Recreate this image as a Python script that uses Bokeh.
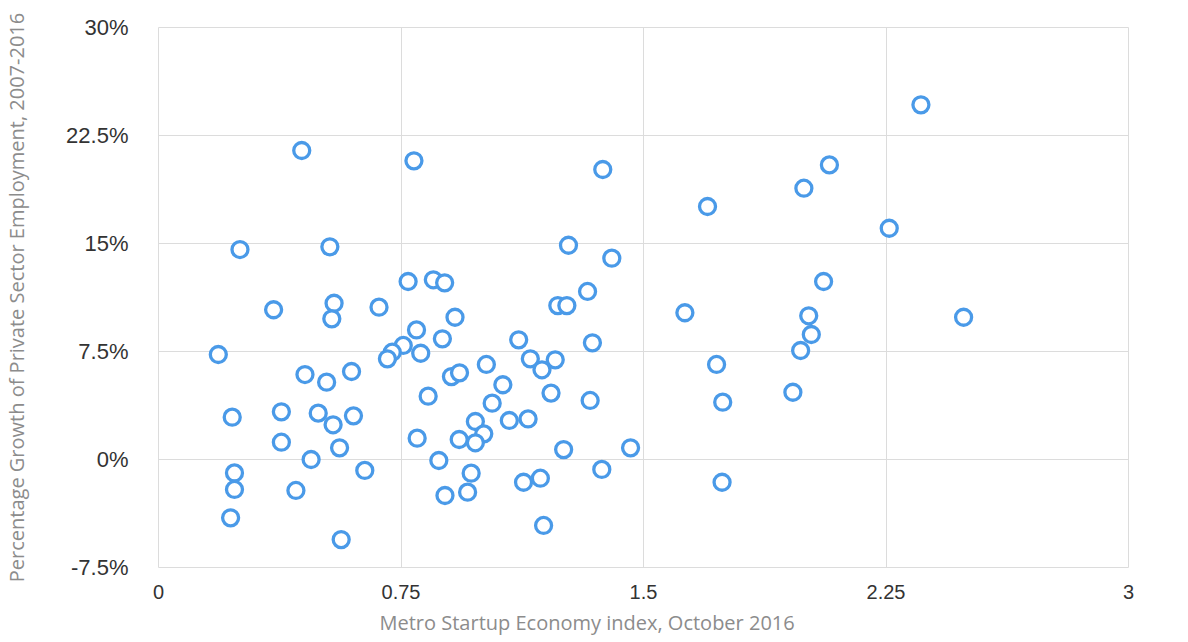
from bokeh.plotting import figure
from bokeh.models import FixedTicker, ColumnDataSource, Title
from bokeh.embed import file_html
from bokeh.resources import INLINE

# Metro Startup Economy index (x) and private-sector employment growth, % (y)
startup_index = [
    0.443, 0.790, 0.252, 0.530, 0.772, 0.850, 0.885, 0.356, 0.543, 0.536,
    0.682, 0.917, 0.798, 0.878, 0.185, 0.757, 0.723, 0.708, 0.811, 1.014,
    0.453, 0.520, 0.597, 0.906, 0.931, 0.834, 0.228, 0.380, 0.494, 0.540,
    0.603, 0.380, 0.560, 0.472, 0.638, 0.235, 0.235, 0.425, 0.223, 0.565,
    0.800, 0.930, 0.980, 1.006, 0.980, 0.867, 0.967, 0.886, 0.956, 1.032,
    1.065, 1.374, 1.268, 1.402, 1.327, 1.235, 1.263, 1.628, 1.114, 1.342,
    1.150, 1.227, 1.186, 1.214, 1.335, 1.085, 1.143, 1.253, 1.460, 1.371,
    1.129, 1.181, 1.191, 2.358, 2.075, 1.996, 1.698, 2.260, 2.057, 2.490,
    2.011, 2.019, 1.986, 1.726, 1.962, 1.745, 1.743,
]
employment_growth = [
    21.46, 20.74, 14.58, 14.77, 12.36, 12.48, 12.27, 10.40, 10.85, 9.77,
    10.58, 9.88, 9.00, 8.38, 7.29, 7.92, 7.45, 6.99, 7.38, 6.60,
    5.90, 5.37, 6.11, 5.76, 6.02, 4.40, 2.94, 3.31, 3.22, 2.41,
    3.03, 1.20, 0.81, 0.00, -0.76, -0.93, -2.08, -2.15, -4.05, -5.56,
    1.48, 1.39, 2.64, 1.78, 1.16, -0.07, -0.95, -2.50, -2.27, 3.91,
    5.19, 20.14, 14.88, 13.98, 11.67, 10.69, 10.69, 10.19, 8.31, 8.10,
    6.99, 6.92, 6.23, 4.61, 4.10, 2.71, 2.82, 0.69, 0.81, -0.69,
    -1.58, -1.30, -4.58, 24.63, 20.46, 18.84, 17.57, 16.06, 12.36, 9.88,
    9.98, 8.68, 7.57, 6.60, 4.67, 3.98, -1.58,
]

x_ticks = [0, 0.75, 1.5, 2.25, 3]
x_tick_labels = ["0", "0.75", "1.5", "2.25", "3"]
y_ticks = [-7.5, 0, 7.5, 15, 22.5, 30]
y_tick_labels = ["-7.5%", "0%", "7.5%", "15%", "22.5%", "30%"]

W, H = 1180, 642
p = figure(width=W, height=H, output_backend="svg", toolbar_location=None,
           x_range=(0, 3), y_range=(-7.5, 30),
           min_border_left=155, min_border_right=W - 1128,
           min_border_top=27, min_border_bottom=H - 567)

src = ColumnDataSource(dict(x=startup_index, y=employment_growth))
p.scatter("x", "y", source=src, size=16, fill_color="white", fill_alpha=1,
          line_color="#4A9AE8", line_width=3.3)

grid_col = "#dcdcdc"
p.outline_line_color = grid_col
p.xgrid.grid_line_color = grid_col
p.ygrid.grid_line_color = grid_col

p.xaxis.ticker = FixedTicker(ticks=x_ticks)
p.yaxis.ticker = FixedTicker(ticks=y_ticks)
p.xaxis.major_label_overrides = {t: l for t, l in zip(x_ticks, x_tick_labels)}
p.yaxis.major_label_overrides = {t: l for t, l in zip(y_ticks, y_tick_labels)}

label_col = "#8c8c8c"
for ax in (p.xaxis, p.yaxis):
    ax.axis_line_color = None
    ax.major_tick_line_color = None
    ax.minor_tick_line_color = None
    ax.major_label_text_font = "Liberation Sans"
    ax.major_label_text_color = "#333333"
    ax.axis_label_text_font = "Open Sans"
    ax.axis_label_text_font_size = "20px"
    ax.axis_label_text_font_style = "normal"
    ax.axis_label_text_color = label_col

p.xaxis.major_label_text_font_size = "20px"
p.yaxis.major_label_text_font_size = "22px"
p.yaxis.axis_label = "Percentage Growth of Private Sector Employment, 2007-2016"
p.xaxis.major_label_standoff = 11
p.yaxis.major_label_standoff = 24
p.yaxis.axis_label_standoff = 33

# x-axis title, set off to the left of the plot centre as in the original
xt = Title(text="Metro Startup Economy index, October 2016", align="left",
           offset=221, text_font="Open Sans", text_font_size="20px",
           text_font_style="normal", text_color=label_col, standoff=11)
p.add_layout(xt, "below")

open("out.html", "w").write(file_html(p, INLINE))
